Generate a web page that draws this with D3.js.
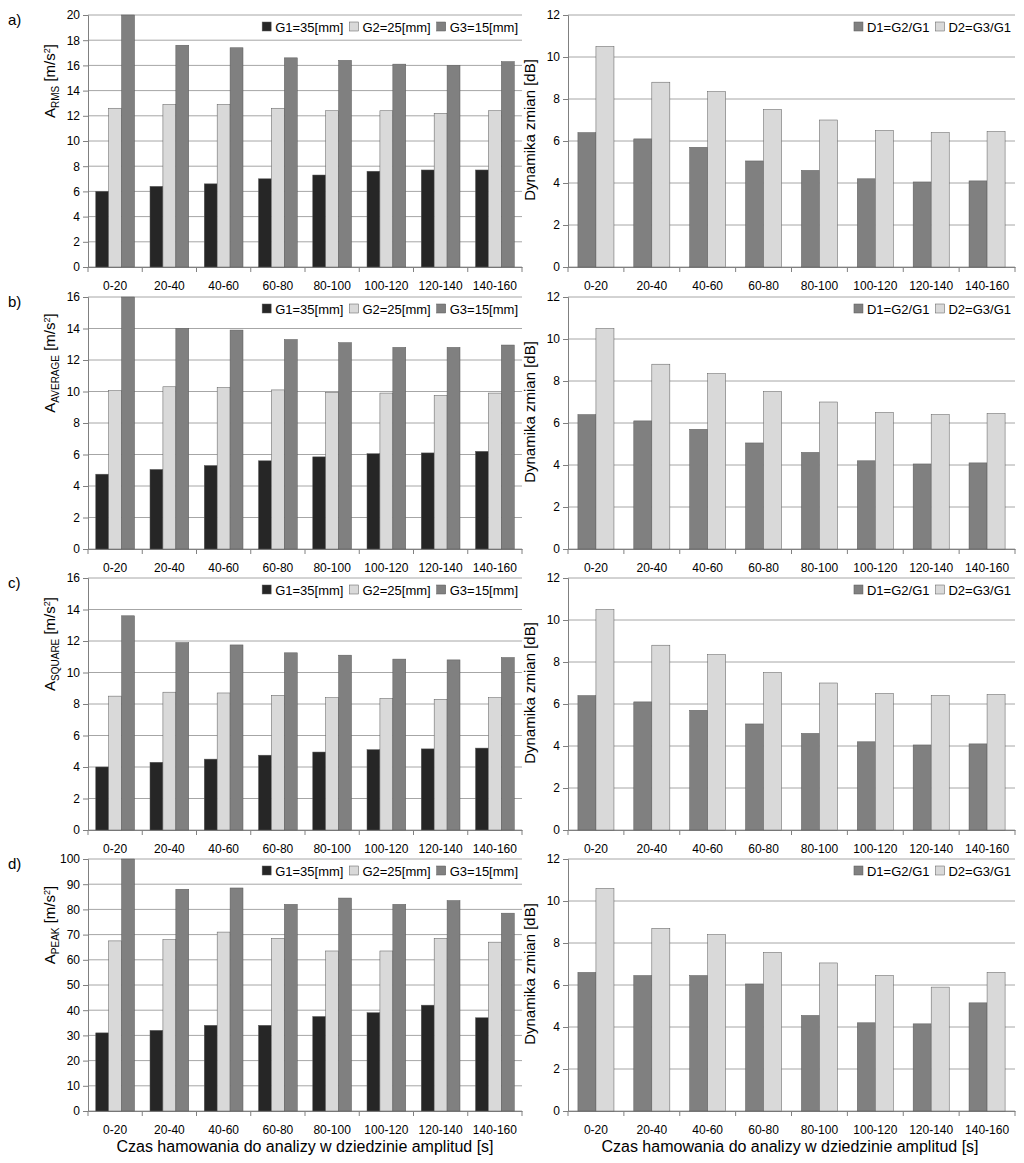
<!DOCTYPE html>
<html><head><meta charset="utf-8">
<script src="https://cdn.jsdelivr.net/npm/d3@7"></script>
<style>body{margin:0;background:#fff}text{font-family:"Liberation Sans",Arial,sans-serif}</style>
</head><body><svg id="c" width="1024" height="1163"></svg>
<script>
var categories = ['0-20', '20-40', '40-60', '60-80', '80-100', '100-120', '120-140', '140-160'];
var rmsG1 = [6.0, 6.4, 6.6, 7.0, 7.3, 7.6, 7.7, 7.7];
var rmsG2 = [12.6, 12.9, 12.9, 12.6, 12.4, 12.4, 12.2, 12.4];
var rmsG3 = [20, 17.6, 17.4, 16.6, 16.4, 16.1, 16.0, 16.3];
var avgG1 = [4.75, 5.05, 5.3, 5.6, 5.85, 6.05, 6.1, 6.2];
var avgG2 = [10.05, 10.3, 10.25, 10.1, 9.95, 9.9, 9.75, 9.9];
var avgG3 = [16, 14, 13.9, 13.3, 13.1, 12.8, 12.8, 12.95];
var sqG1 = [4.0, 4.3, 4.5, 4.75, 4.95, 5.1, 5.15, 5.2];
var sqG2 = [8.5, 8.75, 8.7, 8.55, 8.4, 8.35, 8.3, 8.4];
var sqG3 = [13.6, 11.9, 11.75, 11.25, 11.1, 10.85, 10.8, 10.95];
var pkG1 = [31, 32, 34, 34, 37.5, 39, 42, 37];
var pkG2 = [67.5, 68, 71, 68.5, 63.5, 63.5, 68.5, 67];
var pkG3 = [100, 88, 88.5, 82, 84.5, 82, 83.5, 78.5];
var dynD1 = [6.4, 6.1, 5.7, 5.05, 4.6, 4.2, 4.05, 4.1];
var dynD2 = [10.5, 8.8, 8.35, 7.5, 7.0, 6.5, 6.4, 6.45];
var pkD1 = [6.6, 6.45, 6.45, 6.05, 4.55, 4.2, 4.15, 5.15];
var pkD2 = [10.6, 8.7, 8.4, 7.55, 7.05, 6.45, 5.9, 6.6];
var gNames = ['G1=35[mm]', 'G2=25[mm]', 'G3=15[mm]'];
var dNames = ['D1=G2/G1', 'D2=G3/G1'];
var gColors = ['#262626', '#d9d9d9', '#808080'];
var dColors = ['#808080', '#d9d9d9'];

var svg = d3.select('#c');
var ROW_TOPS = [15, 297, 578, 859];
var PLOT_H = 252;

function drawPanel(x0, x1, top, yMax, yStep, series, colors, names, ylab, sub) {
	var g = svg.append('g');
	var x = d3.scaleBand().domain(categories).range([x0, x1]);
	var y = d3.scaleLinear().domain([0, yMax]).range([top + PLOT_H, top]);
	var ticks = d3.range(0, yMax + yStep / 2, yStep);
	g.selectAll('.grid').data(ticks).enter().append('line')
		.attr('x1', x0).attr('x2', x1).attr('y1', y).attr('y2', y)
		.attr('stroke', '#a6a6a6').attr('stroke-width', 1);
	var yAxis = g.append('g').attr('transform', 'translate(' + x0 + ',0)')
		.call(d3.axisLeft(y).tickValues(ticks).tickSize(5));
	yAxis.selectAll('text').attr('font-size', 12).attr('fill', '#000');
	var xAxis = g.append('g').attr('transform', 'translate(0,' + (top + PLOT_H) + ')')
		.call(d3.axisBottom(x).tickSize(0).tickPadding(14));
	xAxis.selectAll('text').attr('font-size', 12).attr('fill', '#000');
	g.selectAll('.sep').data(d3.range(categories.length + 1)).enter().append('line')
		.attr('x1', function (i) { return x0 + i * x.step(); })
		.attr('x2', function (i) { return x0 + i * x.step(); })
		.attr('y1', top + PLOT_H).attr('y2', top + PLOT_H + 5).attr('stroke', '#808080');
	g.selectAll('.domain').attr('stroke', '#808080');
	yAxis.selectAll('.tick line').attr('stroke', '#808080');

	var inner = d3.scaleBand().domain(d3.range(series.length))
		.range([0, x.bandwidth()]).paddingInner(0).paddingOuter(series.length === 3 ? 0.6 : 0.55);
	series.forEach(function (vals, s) {
		g.selectAll('.b' + s).data(vals).enter().append('rect')
			.attr('x', function (d, i) { return x(categories[i]) + inner(s); })
			.attr('width', inner.bandwidth())
			.attr('y', function (d) { return y(d); })
			.attr('height', function (d) { return y(0) - y(d); })
			.attr('fill', colors[s]).attr('stroke', '#595959').attr('stroke-width', 0.5);
	});

	// legend, right-aligned inside plot
	var leg = g.append('g');
	var lx = x1 - 4;
	for (var k = names.length - 1; k >= 0; k--) {
		var t = leg.append('text').text(names[k]).attr('y', top + 17).attr('font-size', 13)
			.attr('text-anchor', 'end').attr('x', lx);
		var w = t.node().getComputedTextLength();
		leg.append('rect').attr('x', lx - w - 13).attr('y', top + 7).attr('width', 9).attr('height', 9)
			.attr('fill', colors[k]).attr('stroke', '#595959').attr('stroke-width', 0.5);
		lx = lx - w - 19;
	}
	leg.insert('rect', ':first-child').attr('x', lx + 2).attr('y', top + 2)
		.attr('width', x1 - lx - 4).attr('height', 20).attr('fill', '#fff');

	var cy = sub ? top + PLOT_H / 2 - 60 : top + 115;
	var yl = g.append('text').attr('transform', 'translate(' + (x0 - 33) + ',' + cy + ') rotate(-90)')
		.attr('text-anchor', 'middle').attr('font-size', 15);
	yl.append('tspan').text(ylab);
	if (sub) {
		yl.append('tspan').text(sub).attr('font-size', 10).attr('dy', 4);
		yl.append('tspan').text(' [m/s').attr('dy', -4);
		yl.append('tspan').text('2').attr('font-size', 9).attr('dy', -5);
		yl.append('tspan').text(']').attr('dy', 5);
	}
}

var letters = ['a)', 'b)', 'c)', 'd)'];
var leftData = [[rmsG1, rmsG2, rmsG3], [avgG1, avgG2, avgG3], [sqG1, sqG2, sqG3], [pkG1, pkG2, pkG3]];
var leftMax = [20, 16, 16, 100];
var leftStep = [2, 2, 2, 10];
var subs = ['RMS', 'AVERAGE', 'SQUARE', 'PEAK'];
var rightData = [[dynD1, dynD2], [dynD1, dynD2], [dynD1, dynD2], [pkD1, pkD2]];

ROW_TOPS.forEach(function (top, r) {
	svg.append('text').text(letters[r]).attr('x', 8).attr('y', top + 10).attr('font-size', 15);
	drawPanel(88, 522, top, leftMax[r], leftStep[r], leftData[r], gColors, gNames, 'A', subs[r]);
	drawPanel(568, 1015, top, 12, 2, rightData[r], dColors, dNames, 'Dynamika zmian [dB]', null);
});

svg.append('text').text('Czas hamowania do analizy w dziedzinie amplitud [s]')
	.attr('x', 305).attr('y', 1152).attr('text-anchor', 'middle').attr('font-size', 16);
svg.append('text').text('Czas hamowania do analizy w dziedzinie amplitud [s]')
	.attr('x', 790).attr('y', 1152).attr('text-anchor', 'middle').attr('font-size', 16);
</script></body></html>
